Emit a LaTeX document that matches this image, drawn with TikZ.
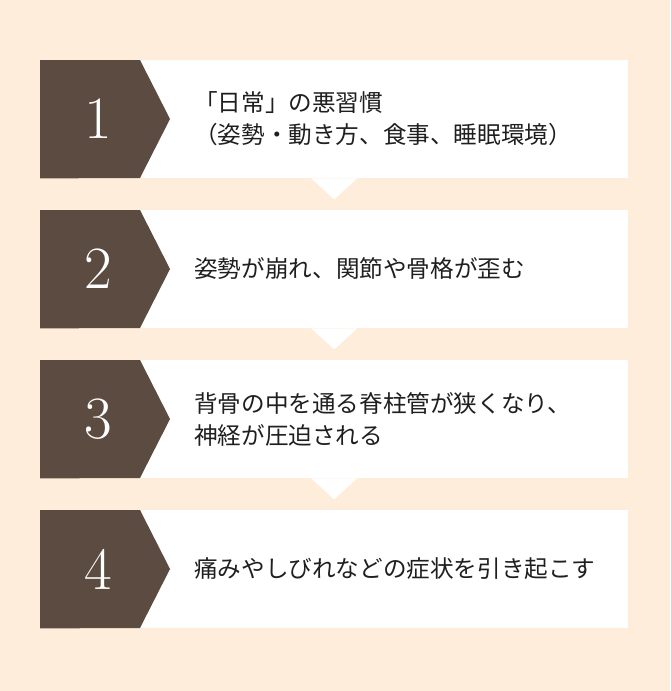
\documentclass[tikz,border=0pt]{standalone}
\usepackage{fontspec}
\newfontfamily\jpfont{Noto Sans CJK JP}
\usetikzlibrary{shapes}
\definecolor{peach}{HTML}{FDEDDA}
\definecolor{cocoa}{HTML}{5C4B40}

\begin{document}
\begin{tikzpicture}[x=1pt,y=-1pt]
    \tikzstyle{step box}    = [rectangle,fill=white,minimum width=588pt,minimum height=118pt,inner sep=0pt,anchor=north west]
    \tikzstyle{badge}       = [fill=cocoa]
    \tikzstyle{pointer}     = [fill=white]
    \tikzstyle{step number} = [text=white,inner sep=0pt,font=\fontsize{60}{60}\selectfont]
    \tikzstyle{step label}  = [anchor=west,align=left,inner sep=0pt,text=black!88,font=\jpfont\fontsize{23.6}{32}\selectfont]

    \fill[peach] (0,0) rectangle (670,691);

    \node[step box] (box1) at (40,60)  {};
    \node[step box] (box2) at (40,210) {};
    \node[step box] (box3) at (40,360) {};
    \node[step box] (box4) at (40,510) {};

    % arrow badges on the left
    \fill[badge] (box1.north west) -- ++(100,0) -- ++(30,59) -- ++(-30,59) -- (box1.south west) -- cycle;
    \fill[badge] (box2.north west) -- ++(100,0) -- ++(30,59) -- ++(-30,59) -- (box2.south west) -- cycle;
    \fill[badge] (box3.north west) -- ++(100,0) -- ++(30,59) -- ++(-30,59) -- (box3.south west) -- cycle;
    \fill[badge] (box4.north west) -- ++(100,0) -- ++(30,59) -- ++(-30,59) -- (box4.south west) -- cycle;

    % small pointers between the steps
    \fill[pointer] ([xshift=-23pt]box1.south) -- ([yshift=-21pt]box1.south) -- ([xshift=23pt]box1.south) -- cycle;
    \fill[pointer] ([xshift=-23pt]box2.south) -- ([yshift=-21pt]box2.south) -- ([xshift=23pt]box2.south) -- cycle;
    \fill[pointer] ([xshift=-23pt]box3.south) -- ([yshift=-21pt]box3.south) -- ([xshift=23pt]box3.south) -- cycle;

    \node[step number] (num1) at (98,119) {1};
    \node[step number] (num2) at (98,269) {2};
    \node[step number] (num3) at (98,419) {3};
    \node[step number] (num4) at (98,569) {4};

    \node[step label] (text1) at (194,119) {「日常」の悪習慣\\（姿勢・動き方、食事、睡眠環境）};
    \node[step label] (text2) at (194,269) {姿勢が崩れ、関節や骨格が歪む};
    \node[step label] (text3) at (194,419) {背骨の中を通る脊柱管が狭くなり、\\神経が圧迫される};
    \node[step label] (text4) at (194,569) {痛みやしびれなどの症状を引き起こす};
\end{tikzpicture}
\end{document}
